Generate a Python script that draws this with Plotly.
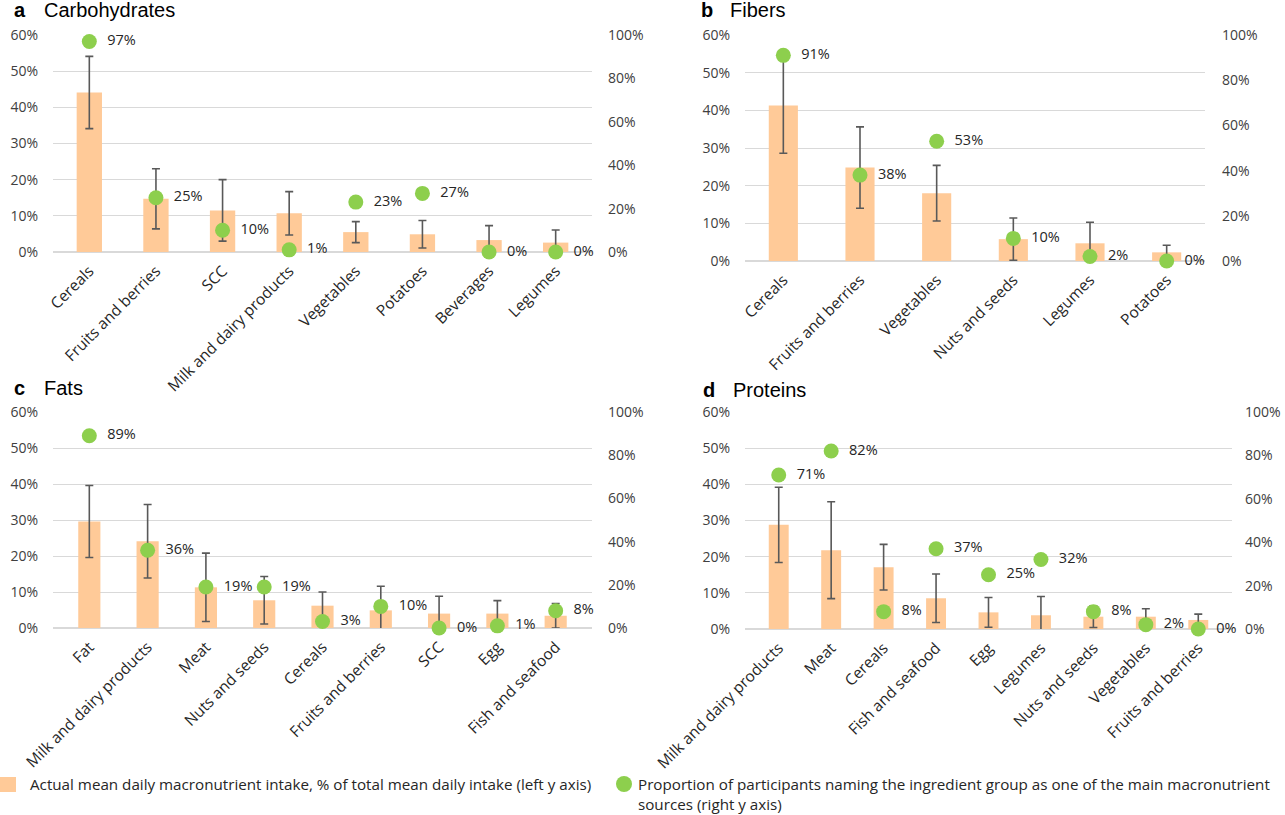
import plotly.graph_objects as go

# ---------------- data ----------------
carb_cats = ["Cereals", "Fruits and berries", "SCC", "Milk and dairy products",
             "Vegetables", "Potatoes", "Beverages", "Legumes"]
carb_mean = [44.1, 14.7, 11.5, 10.7, 5.5, 4.9, 3.3, 2.6]
carb_sd = [10.0, 8.3, 8.5, 6.0, 2.9, 3.8, 4.0, 3.5]
carb_prop = [97, 25, 10, 1, 23, 27, 0, 0]

fib_cats = ["Cereals", "Fruits and berries", "Vegetables", "Nuts and seeds",
            "Legumes", "Potatoes"]
fib_mean = [41.3, 24.8, 18.0, 5.8, 4.7, 2.3]
fib_sd = [12.7, 10.8, 7.4, 5.6, 5.6, 1.9]
fib_prop = [91, 38, 53, 10, 2, 0]

fat_cats = ["Fat", "Milk and dairy products", "Meat", "Nuts and seeds", "Cereals",
            "Fruits and berries", "SCC", "Egg", "Fish and seafood"]
fat_mean = [29.6, 24.1, 11.3, 7.7, 6.2, 4.9, 4.0, 4.0, 3.4]
fat_sd = [10.0, 10.2, 9.5, 6.6, 3.8, 6.7, 4.8, 3.6, 3.4]
fat_prop = [89, 36, 19, 19, 3, 10, 0, 1, 8]

prot_cats = ["Milk and dairy products", "Meat", "Cereals", "Fish and seafood", "Egg",
             "Legumes", "Nuts and seeds", "Vegetables", "Fruits and berries"]
prot_mean = [28.8, 21.8, 17.1, 8.5, 4.6, 3.8, 3.4, 3.4, 2.5]
prot_sd = [10.4, 13.4, 6.3, 6.7, 4.1, 5.2, 3.0, 2.2, 1.6]
prot_prop = [71, 82, 8, 37, 25, 32, 8, 2, 0]

panel_letters = ["a", "b", "c", "d"]
panel_titles = ["Carbohydrates", "Fibers", "Fats", "Proteins"]

left_ticks = [0, 10, 20, 30, 40, 50, 60]
right_ticks = [0, 20, 40, 60, 80, 100]

bar_name = "Actual mean daily macronutrient intake, % of total mean daily intake (left y axis)"
dot_name_lines = ["Proportion of participants naming the ingredient group as one of the main macronutrient",
                  "sources (right y axis)"]

# ---------------- layout geometry (pixels) ----------------
W, H = 1285, 815
# (x0, x1, ytop, ybottom)
boxes = [
    (53, 592, 35, 252),
    (745, 1205, 35, 261),
    (53, 592, 412, 628),
    (745, 1232, 412, 629),
]
right_standoff = [15, 16, 15, 12]
title_pos = [(12, 42, 10), (699, 728, 10), (12, 42, 388), (701, 731, 390)]

BAR = "#FFCA98"
DOT = "#8DCF4D"
ERR = "#595959"
GRID = "#D9D9D9"
TXT = "#262626"
FAM = "Open Sans, Noto Sans, sans-serif"
YTICKFONT = dict(family=FAM, size=14, color="#404040")
XTICKFONT = dict(family=FAM, size=15.5, color="#262626")
NB = "\u00a0\u00a0"

panels = [
    (carb_cats, carb_mean, carb_sd, carb_prop),
    (fib_cats, fib_mean, fib_sd, fib_prop),
    (fat_cats, fat_mean, fat_sd, fat_prop),
    (prot_cats, prot_mean, prot_sd, prot_prop),
]

fig = go.Figure()
layout = dict(
    width=W, height=H,
    margin=dict(l=0, r=0, t=0, b=0, autoexpand=False),
    paper_bgcolor="white", plot_bgcolor="white",
    bargap=0.62, showlegend=False,
    annotations=[], shapes=[],
)

for i, (cats, mean, sd, prop) in enumerate(panels):
    n = i + 1
    xa = "x" if n == 1 else f"x{n}"
    yl_n = 2 * n - 1
    yr_n = 2 * n
    yl = "y" if yl_n == 1 else f"y{yl_n}"
    yr = f"y{yr_n}"
    x0, x1, yt, yb = boxes[i]
    xdom = [x0 / W, x1 / W]
    ydom = [1 - yb / H, 1 - yt / H]

    fig.add_trace(go.Bar(
        x=cats, y=mean, xaxis=xa, yaxis=yl,
        marker=dict(color=BAR, line=dict(width=0)),
        error_y=dict(type="data", array=sd, visible=True, color=ERR, thickness=1.6, width=4),
        name=bar_name, hoverinfo="skip",
    ))
    fig.add_trace(go.Scatter(
        x=cats, y=prop, xaxis=xa, yaxis=yr,
        mode="markers+text",
        marker=dict(color=DOT, size=15, line=dict(width=0)),
        text=[f"{NB}{v}%" for v in prop], textposition="middle right",
        textfont=dict(family=FAM, size=14.5, color=TXT),
        cliponaxis=False, name="proportion", hoverinfo="skip",
    ))

    layout[f"xaxis{'' if n == 1 else n}"] = dict(
        domain=xdom, anchor=yl, type="category", automargin=False,
        showgrid=False, showline=False, ticks="",
        tickangle=-45, tickfont=XTICKFONT, fixedrange=True, ticklabelstandoff=6,
    )
    layout[f"yaxis{'' if yl_n == 1 else yl_n}"] = dict(
        domain=ydom, anchor=xa, range=[0, 60], tickvals=left_ticks,
        ticktext=[f"{v}%" for v in left_ticks], automargin=False,
        showgrid=True, gridcolor=GRID, gridwidth=1,
        zeroline=True, zerolinecolor=GRID, zerolinewidth=1.5,
        showline=False, ticks="", tickfont=YTICKFONT, ticklabelstandoff=14,
    )
    layout[f"yaxis{yr_n}"] = dict(
        domain=ydom, anchor=xa, overlaying=yl, side="right",
        range=[0, 100], tickvals=right_ticks, automargin=False,
        ticktext=[f"{v}%" for v in right_ticks],
        showgrid=False, zeroline=False, showline=False, ticks="",
        tickfont=YTICKFONT, ticklabelstandoff=right_standoff[i],
    )

    lx, tx, ty = title_pos[i]
    layout["annotations"].append(dict(
        x=lx / W, y=1 - ty / H, xref="paper", yref="paper", xanchor="left", yanchor="middle",
        text=f"<b>{panel_letters[i]}</b>", showarrow=False,
        font=dict(family="Liberation Sans, Arial, sans-serif", size=20, color="black"),
    ))
    layout["annotations"].append(dict(
        x=tx / W, y=1 - ty / H, xref="paper", yref="paper", xanchor="left", yanchor="middle",
        text=panel_titles[i], showarrow=False,
        font=dict(family="Liberation Sans, Arial, sans-serif", size=20, color="black"),
    ))

# ---------------- legend (drawn manually to match placement) ----------------
LEGFONT = dict(family=FAM, size=15.2, color=TXT)
layout["shapes"].append(dict(
    type="rect", xref="paper", yref="paper",
    x0=0 / W, x1=16 / W, y0=1 - 792 / H, y1=1 - 777 / H,
    fillcolor=BAR, line=dict(width=0),
))
layout["shapes"].append(dict(
    type="circle", xref="paper", yref="paper",
    x0=616 / W, x1=632 / W, y0=1 - 792 / H, y1=1 - 776 / H,
    fillcolor=DOT, line=dict(width=0),
))
layout["annotations"].append(dict(
    x=28 / W, y=1 - 784 / H, xref="paper", yref="paper", xanchor="left", yanchor="middle",
    text=bar_name, showarrow=False, font=LEGFONT,
))
layout["annotations"].append(dict(
    x=636 / W, y=1 - 784 / H, xref="paper", yref="paper", xanchor="left", yanchor="middle",
    text=dot_name_lines[0], showarrow=False, font=LEGFONT,
))
layout["annotations"].append(dict(
    x=636 / W, y=1 - 804 / H, xref="paper", yref="paper", xanchor="left", yanchor="middle",
    text=dot_name_lines[1], showarrow=False, font=LEGFONT,
))

fig.update_layout(**layout)
fig.write_html("out.html", config={"displayModeBar": False},
               post_script="document.body.style.margin='0px';document.body.style.overflow='hidden';")
